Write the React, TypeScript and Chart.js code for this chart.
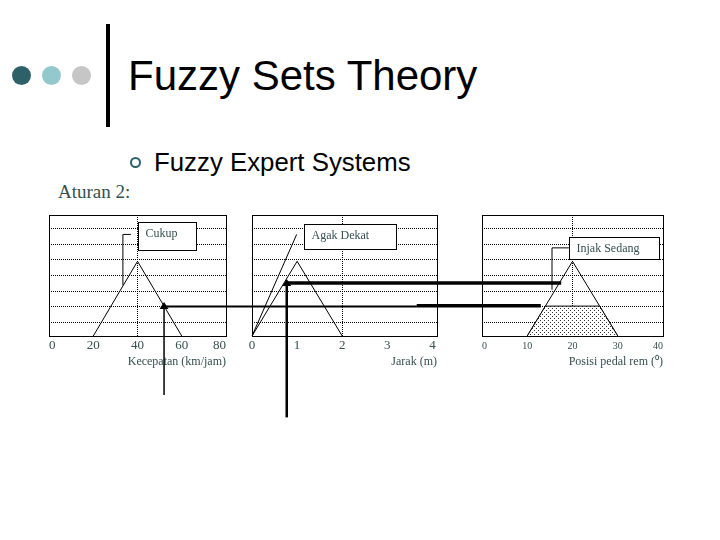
import React, { useEffect, useRef } from "react";
import { Chart, registerables } from "chart.js";
Chart.register(...registerables);

// ---------- data ----------
const speedTicks = [0, 20, 40, 60, 80];
const speedMax = 80;
const cukupX = [20, 40, 60];
const cukupMu = [0, 1, 0];

const distanceTicks = [0, 1, 2, 3, 4];
const distanceMax = 4.1;
const agakDekatX = [0, 1, 2];
const agakDekatMu = [0, 1, 0];

const pedalTicks = [0, 10, 20, 30, 40];
const pedalMax = 40;
const injakSedangX = [10, 20, 30];
const injakSedangMu = [0, 1, 0];
const clippedX = [10, 14, 26, 30];
const clippedMu = [0, 0.4, 0.4, 0];

const gridLevels = [0.18, 0.39, 0.6, 0.81, 1.02, 1.23, 1.44];
const muMax = 1.62;

// rule inputs / firing strengths
const speedInput = 52;
const speedDegree = 0.4;
const speedArrowFrom = -0.79;
const distanceInput = 0.77;
const distanceDegree = 0.71;
const distanceArrowFrom = -1.09;
const speedLineBreak = 3.65; // on distance axis
const speedLineEnd = 13; // on pedal axis
const distanceLineEnd = 17.5; // on pedal axis

// callouts (data coordinates)
const cukupLabel = "Cukup";
const cukupBox = [40.2, 66.4, 1.53, 1.15];
const cukupLeader = [[37, 1.36], [33.4, 1.36], [33.4, 0.68]];
const agakDekatLabel = "Agak Dekat";
const agakDekatBox = [1.15, 3.2, 1.5, 1.17];
const agakDekatLeader = [[0, 0], [0.99, 1.36]];
const injakSedangLabel = "Injak Sedang";
const injakSedangBox = [19.2, 39.1, 1.33, 1.03];
const injakSedangLeader = [[19.2, 1.18], [15.47, 1.18], [15.47, 0.62]];

const speedTitle = "Kecepatan (km/jam)";
const distanceTitle = "Jarak (m)";
const pedalTitle = "Posisi pedal rem (\u2070)";

// ---------- styles ----------
const SLATE = "#34504f";
const SERIF = '"Liberation Serif", "Times New Roman", serif';
const AXIS_H = 33;

const pts = (xs: number[], ys: number[]) => xs.map((x, i) => ({ x, y: ys[i] }));

function calloutPlugin(text: string, box: number[], leader: number[][]) {
  return {
    id: "callout",
    afterDatasetsDraw(chart: any) {
      const { ctx, chartArea: a, scales } = chart;
      const x = scales.x, y = scales.y;
      ctx.save();
      ctx.strokeStyle = "#000";
      ctx.lineWidth = 1;
      ctx.strokeRect(Math.round(a.left) + 0.5, Math.round(a.top) + 0.5, Math.round(a.right - a.left), Math.round(a.bottom - a.top));
      ctx.beginPath();
      leader.forEach(([vx, vy], i) => {
        const px = x.getPixelForValue(vx), py = y.getPixelForValue(vy);
        if (i) ctx.lineTo(px, py); else ctx.moveTo(px, py);
      });
      ctx.stroke();
      const L = Math.round(x.getPixelForValue(box[0])) + 0.5;
      const R = Math.round(x.getPixelForValue(box[1])) + 0.5;
      const T = Math.round(y.getPixelForValue(box[2])) + 0.5;
      const B = Math.round(y.getPixelForValue(box[3])) + 0.5;
      ctx.fillStyle = "#fff";
      ctx.fillRect(L, T, R - L, B - T);
      ctx.strokeRect(L, T, R - L, B - T);
      ctx.fillStyle = SLATE;
      ctx.font = `12px ${SERIF}`;
      ctx.textBaseline = "middle";
      ctx.textAlign = "left";
      ctx.fillText(text, L + 7, T + 11.5);
      ctx.restore();
    },
  };
}

function buildConfig(o: any) {
  return {
    type: "scatter",
    data: { datasets: o.datasets },
    options: {
      animation: false,
      responsive: false,
      devicePixelRatio: 1,
      events: [],
      layout: {
        padding: { left: o.area.left, right: 720 - o.area.right, top: o.area.top, bottom: 540 - o.area.bottom - AXIS_H },
      },
      plugins: { legend: { display: false }, tooltip: { enabled: false }, title: { display: false } },
      scales: {
        x: {
          type: "linear",
          position: "bottom",
          min: 0,
          max: o.xMax,
          afterBuildTicks: (s: any) => { s.ticks = o.ticks.map((v: number) => ({ value: v })); },
          afterFit: (s: any) => { s.height = AXIS_H; },
          grid: {
            color: (c: any) => (c.tick && c.tick.value === o.center ? "#000" : "rgba(0,0,0,0)"),
            drawTicks: false,
            lineWidth: 1,
          },
          border: { display: false, dash: [1, 1] },
          ticks: { padding: o.tickPad, font: { family: SERIF, size: o.tickSize }, color: SLATE, align: o.align, maxRotation: 0, autoSkip: false },
          title: { display: true, text: o.title, align: "end", font: { family: SERIF, size: 12 }, color: SLATE, padding: { top: 0, bottom: 0 } },
        },
        y: {
          type: "linear",
          min: 0,
          max: muMax,
          afterBuildTicks: (s: any) => { s.ticks = gridLevels.map((v) => ({ value: v })); },
          afterFit: (s: any) => { s.width = 0; },
          grid: { color: "#000", drawTicks: false, lineWidth: 1 },
          border: { display: false, dash: [1, 1] },
          ticks: { display: false },
        },
      },
    },
    plugins: [calloutPlugin(o.label, o.box, o.leader), ...(o.extra || [])],
  } as any;
}

function lineDs(data: any[], extra: any = {}) {
  return { data, showLine: true, borderColor: "#000", borderWidth: 1, pointRadius: 0, fill: false, tension: 0, ...extra };
}

function arrowsPlugin(c1: any, c2: any) {
  return {
    id: "arrows",
    afterDraw(chart: any) {
      const ctx = chart.ctx;
      const x1 = c1.scales.x, y1 = c1.scales.y, x2 = c2.scales.x, y2 = c2.scales.y, x3 = chart.scales.x;
      ctx.save();
      ctx.strokeStyle = "#000";
      ctx.fillStyle = "#000";
      const seg = (xa: number, ya: number, xb: number, yb: number, w: number) => {
        ctx.lineWidth = w;
        ctx.beginPath();
        ctx.moveTo(xa, ya);
        ctx.lineTo(xb, yb);
        ctx.stroke();
      };
      const head = (x: number, y: number) => {
        ctx.beginPath();
        ctx.moveTo(x, y - 4);
        ctx.lineTo(x - 4.5, y + 3);
        ctx.lineTo(x + 4.5, y + 3);
        ctx.closePath();
        ctx.fill();
      };
      // rule input 1: speed
      const ax = x1.getPixelForValue(speedInput);
      const ay = y1.getPixelForValue(speedDegree);
      seg(ax, y1.getPixelForValue(speedArrowFrom), ax, ay, 1.5);
      const brk = x2.getPixelForValue(speedLineBreak);
      seg(ax, ay + 0.5, brk, ay + 0.5, 2);
      seg(brk, ay - 0.25, x3.getPixelForValue(speedLineEnd), ay - 0.25, 3.5);
      head(ax, ay);
      // rule input 2: distance
      const bx = x2.getPixelForValue(distanceInput);
      const by = y2.getPixelForValue(distanceDegree);
      seg(bx, y2.getPixelForValue(distanceArrowFrom), bx, by, 2.5);
      seg(bx, by, x3.getPixelForValue(distanceLineEnd), by, 3.5);
      head(bx, by);
      ctx.restore();
    },
  };
}

function makePattern(): any {
  const c = document.createElement("canvas");
  c.width = 4;
  c.height = 4;
  const g = c.getContext("2d")!;
  g.fillStyle = "#fff";
  g.fillRect(0, 0, 4, 4);
  g.fillStyle = "#333";
  g.fillRect(0, 0, 1, 1);
  g.fillRect(2, 2, 1, 1);
  return g.createPattern(c, "repeat");
}

export default function App() {
  const r1 = useRef<HTMLCanvasElement>(null);
  const r2 = useRef<HTMLCanvasElement>(null);
  const r3 = useRef<HTMLCanvasElement>(null);

  useEffect(() => {
    const c1 = new Chart(r1.current!, buildConfig({
      area: { left: 49, right: 226, top: 215, bottom: 336 },
      xMax: speedMax, ticks: speedTicks, center: 40, tickSize: 13, tickPad: 2, align: "inner",
      title: speedTitle, label: cukupLabel, box: cukupBox, leader: cukupLeader,
      datasets: [lineDs(pts(cukupX, cukupMu))],
    }));
    const c2 = new Chart(r2.current!, buildConfig({
      area: { left: 252, right: 437, top: 215, bottom: 336 },
      xMax: distanceMax, ticks: distanceTicks, center: 2, tickSize: 13, tickPad: 2, align: "center",
      title: distanceTitle, label: agakDekatLabel, box: agakDekatBox, leader: agakDekatLeader,
      datasets: [lineDs(pts(agakDekatX, agakDekatMu))],
    }));
    const c3 = new Chart(r3.current!, buildConfig({
      area: { left: 482, right: 663, top: 215, bottom: 336 },
      xMax: pedalMax, ticks: pedalTicks, center: 20, tickSize: 10, tickPad: 4, align: "inner",
      title: pedalTitle, label: injakSedangLabel, box: injakSedangBox, leader: injakSedangLeader,
      datasets: [
        lineDs(pts(clippedX, clippedMu), { fill: "origin", backgroundColor: makePattern() }),
        lineDs(pts(injakSedangX, injakSedangMu)),
      ],
      extra: [],
    }));
    // arrows drawn on top canvas, using the scales of all three charts
    (c3 as any).config.plugins.push(arrowsPlugin(c1, c2));
    c3.update();
    return () => {
      c3.destroy();
      c2.destroy();
      c1.destroy();
    };
  }, []);

  const canvasStyle: React.CSSProperties = { position: "absolute", left: 0, top: 0, width: 720, height: 540 };
  const dot = (cx: number, color: string): React.CSSProperties => ({
    position: "absolute", left: cx - 9.5, top: 75 - 9.5, width: 19, height: 19, borderRadius: "50%", background: color,
  });

  return (
    <div style={{ position: "fixed", left: 0, top: 0, width: 720, height: 540, background: "#fff", overflow: "hidden" }}>
      <div style={dot(21, "#2e6068")} />
      <div style={dot(51.5, "#93c9cc")} />
      <div style={dot(81.5, "#c6c6c6")} />
      <div style={{ position: "absolute", left: 106, top: 24, width: 4, height: 103, background: "#000" }} />
      <div style={{ position: "absolute", left: 128, top: 55, fontFamily: '"Liberation Sans", Arial, sans-serif', fontSize: 42, lineHeight: "42px", whiteSpace: "nowrap", color: "#000" }}>
        Fuzzy Sets Theory
      </div>
      <div style={{ position: "absolute", left: 130, top: 156.5, width: 11, height: 11, boxSizing: "border-box", border: "2px solid #2e6068", borderRadius: "50%" }} />
      <div style={{ position: "absolute", left: 154, top: 148.5, fontFamily: '"Liberation Sans", Arial, sans-serif', fontSize: 25.8, lineHeight: "26px", whiteSpace: "nowrap", color: "#000" }}>
        Fuzzy Expert Systems
      </div>
      <div style={{ position: "absolute", left: 58, top: 182, fontFamily: SERIF, fontSize: 19, lineHeight: "19px", whiteSpace: "nowrap", color: SLATE }}>
        Aturan 2:
      </div>
      <canvas ref={r1} width={720} height={540} style={canvasStyle} />
      <canvas ref={r2} width={720} height={540} style={canvasStyle} />
      <canvas ref={r3} width={720} height={540} style={canvasStyle} />
    </div>
  );
}
